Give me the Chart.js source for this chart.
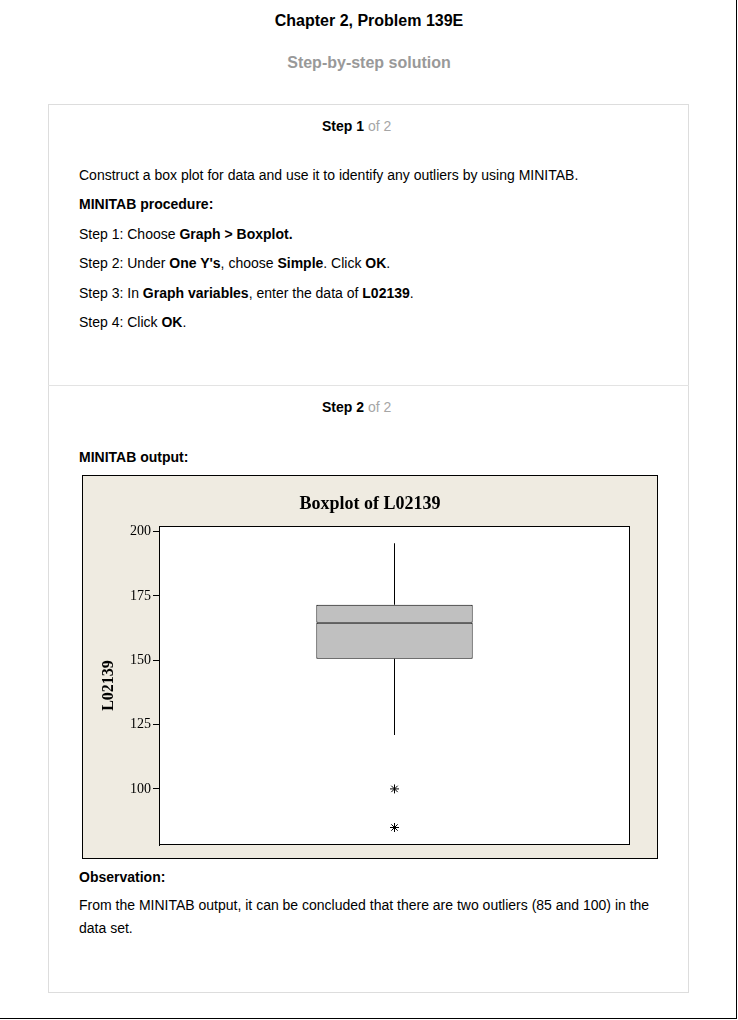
<!DOCTYPE html>
<html>
<head>
<meta charset="utf-8">
<script src="https://cdn.jsdelivr.net/npm/chart.js@4.4.1/dist/chart.umd.min.js"></script>
<style>
  html, body { margin:0; padding:0; background:#fff; }
  body { width:738px; height:1020px; position:relative; overflow:hidden;
         font-family:"Liberation Sans", Arial, sans-serif; color:#000; }
  .frame { position:absolute; left:0; top:0; width:736px; height:1018px;
           border-right:1px solid #000; border-bottom:1px solid #000; }
  .ln { position:absolute; white-space:nowrap; font-size:14px; line-height:18px; }
  .c { left:0; width:738px; text-align:center; }
  .card { position:absolute; left:48px; top:104px; width:641px; height:889px;
          box-sizing:border-box; border:1px solid #ddd; }
  .divider { position:absolute; left:48px; top:385px; width:641px; height:1px; background:#e3e3e3; }
  .gray { color:#a6a6a6; }
  .chartbox { position:absolute; left:82px; top:475px; width:576px; height:384px;
              box-sizing:border-box; border:1px solid #000; background:#efebe1; }
  .chartbox canvas { display:block; }
</style>
</head>
<body>
<div class="frame"></div>
<div class="ln c" style="top:11px;font-size:16px;line-height:20px;font-weight:bold;">Chapter 2, Problem 139E</div>
<div class="ln c" style="top:53px;font-size:16px;line-height:20px;font-weight:bold;color:#999;">Step-by-step solution</div>
<div class="card"></div>
<div class="divider"></div>

<div class="ln" style="left:322px;top:117px;"><b>Step 1</b> <span class="gray">of 2</span></div>
<div class="ln" style="left:79px;top:166px;">Construct a box plot for data and use it to identify any outliers by using MINITAB.</div>
<div class="ln" style="left:79px;top:195px;"><b>MINITAB procedure:</b></div>
<div class="ln" style="left:79px;top:225px;">Step 1: Choose <b>Graph &gt; Boxplot.</b></div>
<div class="ln" style="left:79px;top:254px;">Step 2: Under <b>One Y's</b>, choose <b>Simple</b>. Click <b>OK</b>.</div>
<div class="ln" style="left:79px;top:284px;">Step 3: In <b>Graph variables</b>, enter the data of <b>L02139</b>.</div>
<div class="ln" style="left:79px;top:313px;">Step 4: Click <b>OK</b>.</div>

<div class="ln" style="left:322px;top:398px;"><b>Step 2</b> <span class="gray">of 2</span></div>
<div class="ln" style="left:79px;top:448px;"><b>MINITAB output:</b></div>

<div class="chartbox"><canvas id="c" width="574" height="382"></canvas></div>

<div class="ln" style="left:79px;top:868px;"><b>Observation:</b></div>
<div class="ln" style="left:79px;top:894px;line-height:23px;">From the MINITAB output, it can be concluded that there are two outliers (85 and 100) in the<br>data set.</div>

<script>
// ---- data ----
const categories   = ['L02139'];
const whiskerMin   = [121];
const boxQ1        = [150.6];
const boxMedian    = [164.6];
const boxQ3        = [171.6];
const whiskerMax   = [195.5];
const outlierVals  = [100, 85];
const yTicks       = [100, 125, 150, 175, 200];

const plotFrame = {
  id: 'plotFrame',
  beforeDraw(chart) {
    const {ctx, chartArea: a} = chart;
    ctx.save();
    ctx.fillStyle = '#fff';
    ctx.fillRect(a.left, a.top, a.right - a.left, a.bottom - a.top);
    ctx.restore();
  },
  afterDraw(chart) {
    const {ctx, chartArea: a} = chart;
    ctx.save();
    ctx.strokeStyle = '#000';
    ctx.lineWidth = 1;
    ctx.strokeRect(a.left + 0.5, a.top + 0.5, a.right - a.left - 1, a.bottom - a.top - 1);
    ctx.restore();
  }
};

const serif = 'Liberation Serif, Times New Roman, serif';

new Chart(document.getElementById('c'), {
  type: 'bar',
  data: {
    labels: categories,
    datasets: [
      {
        type: 'line',
        label: 'Outliers',
        data: outlierVals.map(v => ({x: categories[0], y: v})),
        showLine: false,
        pointStyle: 'star',
        pointRadius: 4.5,
        borderColor: '#000',
        backgroundColor: '#000',
        borderWidth: 1
      },
      {
        label: 'Lower whisker',
        data: categories.map((c, i) => [whiskerMin[i], boxQ1[i]]),
        backgroundColor: '#000', borderWidth: 0, barThickness: 1, inflateAmount: 0, grouped: false
      },
      {
        label: 'Upper whisker',
        data: categories.map((c, i) => [boxQ3[i], whiskerMax[i]]),
        backgroundColor: '#000', borderWidth: 0, barThickness: 1, inflateAmount: 0, grouped: false
      },
      {
        label: 'Q1-Median',
        data: categories.map((c, i) => [boxQ1[i], boxMedian[i]]),
        backgroundColor: '#c0c0c0', borderColor: '#000', borderWidth: 1, borderSkipped: false,
        inflateAmount: 0, barPercentage: 0.332, categoryPercentage: 1, grouped: false
      },
      {
        label: 'Median-Q3',
        data: categories.map((c, i) => [boxMedian[i], boxQ3[i]]),
        backgroundColor: '#c0c0c0', borderColor: '#000', borderWidth: 1, borderSkipped: false,
        inflateAmount: 0, barPercentage: 0.332, categoryPercentage: 1, grouped: false
      }
    ]
  },
  options: {
    responsive: false,
    animation: false,
    devicePixelRatio: 1,
    layout: { padding: { left: 0, right: 0, top: 0, bottom: 13 } },
    plugins: {
      legend: { display: false },
      tooltip: { enabled: false },
      title: {
        display: true,
        text: 'Boxplot of L02139',
        color: '#000',
        font: { family: serif, size: 18, weight: 'bold' },
        padding: { top: 18, bottom: 10.4 }
      }
    },
    scales: {
      x: { display: false },
      y: {
        position: 'left',
        min: 78.2, max: 202.2,
        afterBuildTicks: s => { s.ticks = yTicks.map(v => ({ value: v })); },
        afterFit: s => { s.width = 76; },
        ticks: { color: '#000', padding: 2, font: { family: serif, size: 14 } },
        grid: { drawOnChartArea: false, tickLength: 6, color: '#000' },
        border: { display: true, color: '#000' },
        title: {
          display: true, text: 'L02139', color: '#000',
          font: { family: serif, size: 16, weight: 'bold' },
          padding: { top: 16, bottom: 0 }
        }
      },
      yRight: {
        position: 'right',
        display: true,
        grid: { display: false },
        ticks: { display: false },
        border: { display: false },
        afterFit: s => { s.width = 27; }
      }
    }
  },
  plugins: [plotFrame]
});
</script>
</body>
</html>
